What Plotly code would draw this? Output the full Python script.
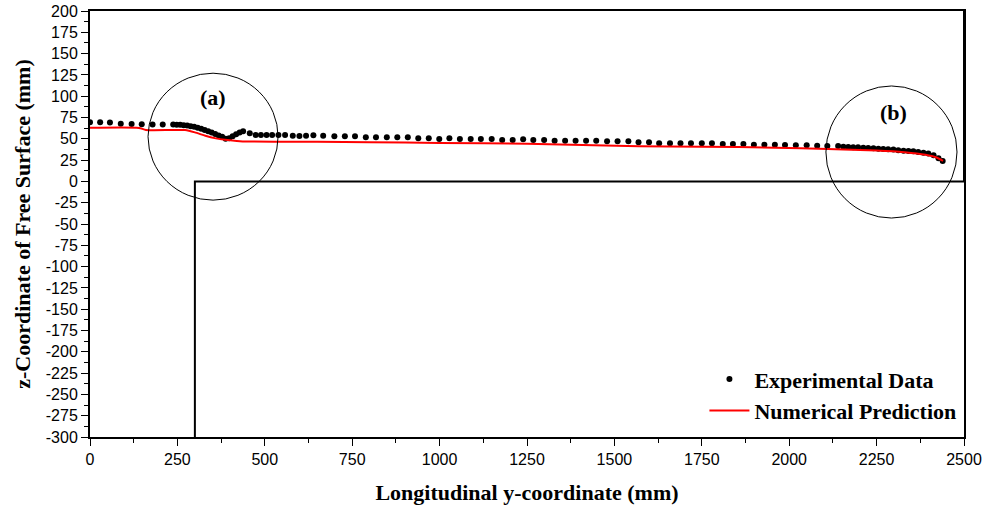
import plotly.graph_objects as go

# ---------------- data ----------------
exp_x = [0, 29, 57, 88, 119, 148, 179, 208, 238,
         248, 258, 268, 278, 288, 298, 308, 318, 328, 338, 348, 358, 368, 378, 388, 398, 408, 418, 428, 438,
         457, 474, 489, 505, 521, 539, 558, 580, 599, 618, 639, 667, 699, 729, 758, 789, 818, 849, 879, 909,
         939, 969, 999, 1028, 1058, 1089, 1118, 1149, 1179, 1209, 1239, 1268, 1299, 1329, 1359, 1389, 1419,
         1448, 1479, 1509, 1540, 1569, 1599, 1628, 1659, 1689, 1719, 1750, 1779, 1810, 1839, 1869, 1899, 1929,
         1959, 1988, 2019, 2050, 2080, 2109, 2140, 2155, 2169, 2183, 2197, 2212, 2226, 2241, 2255, 2269, 2283,
         2298, 2312, 2327, 2341, 2355, 2369, 2384, 2398, 2413, 2427, 2439]
exp_y = [69.5, 69.3, 69.0, 67.8, 67.5, 67.0, 66.9, 66.8, 66.7,
         66.6, 66.4, 66.0, 65.5, 64.8, 64.0, 63.0, 61.8, 60.4, 58.9, 57.3, 55.7, 54.0, 52.4, 50.0, 50.6, 53.0, 55.3, 57.3, 59.0,
         56.4, 54.6, 54.5, 54.5, 54.5, 54.5, 54.5, 53.7, 53.3, 53.7, 54.1, 53.7, 52.9, 52.9, 52.9, 51.7, 51.7, 51.7, 51.7, 51.7,
         50.5, 50.5, 49.8, 50.5, 49.8, 49.8, 49.8, 49.8, 48.6, 48.6, 49.4, 48.6, 48.6, 47.8, 47.8, 47.8, 47.8,
         47.8, 47.0, 47.0, 47.0, 45.9, 45.9, 44.7, 44.7, 44.7, 44.7, 44.7, 44.7, 43.9, 43.9, 43.9, 43.1, 43.1,
         43.1, 42.7, 42.3, 42.3, 41.9, 41.5, 41.5, 40.8, 40.4, 40.0, 40.0, 39.6, 39.2, 38.8, 38.4, 38.0, 37.6,
         37.3, 36.5, 36.1, 35.7, 35.3, 34.5, 33.7, 32.6, 30.6, 27.1, 23.8]

num_x = [0, 140, 160, 272, 300, 330, 360, 386, 420, 450, 550, 650, 800, 1000, 1250, 1570, 1750,
         1960, 2110, 2250, 2330, 2390, 2420, 2440]
num_y = [63.0, 62.8, 60.4, 60.2, 57.5, 53.5, 50.5, 48.8, 47.5, 46.8, 46.6, 46.5, 46.0, 45.1, 44.3, 41.2, 40.8,
         39.6, 38.0, 36.3, 34.3, 31.3, 28.3, 24.0]

# channel geometry (bottom step of the flume)
channel_x = [300, 300, 2500, 2500]
channel_y = [-300, 0, 0, 200]

# highlighted regions (circles): x0, x1, y0, y1 and labels
region_labels = ["(a)", "(b)"]
region_x0 = [166, 2105]
region_x1 = [538, 2480]
region_y0 = [-22, -43]
region_y1 = [127, 112]
label_x = [352, 2297]
label_y = [99, 81]

x_ticks = list(range(0, 2501, 250))
y_ticks = list(range(-300, 201, 25))

serif = "Liberation Serif, Times New Roman, serif"
sans = "Liberation Sans, Arial, sans-serif"

fig = go.Figure()

fig.add_trace(go.Scatter(x=channel_x, y=channel_y, mode="lines",
                         line=dict(color="black", width=2), showlegend=False, hoverinfo="skip"))

fig.add_trace(go.Scatter(x=exp_x, y=exp_y, mode="markers", name="Experimental Data",
                         marker=dict(color="black", size=6, symbol="circle")))

fig.add_trace(go.Scatter(x=num_x, y=num_y, mode="lines", name="Numerical Prediction",
                         line=dict(color="#ff0000", width=2, shape="spline", smoothing=0.6)))

for i in range(len(region_labels)):
    fig.add_shape(type="circle", xref="x", yref="y",
                  x0=region_x0[i], x1=region_x1[i], y0=region_y0[i], y1=region_y1[i],
                  line=dict(color="black", width=1))
    fig.add_annotation(x=label_x[i], y=label_y[i], text=region_labels[i],
                       showarrow=False, font=dict(family=serif, size=22, color="black", weight="bold"))

axis_common = dict(showgrid=False, zeroline=False, showline=True, linecolor="black", linewidth=2,
                   mirror=True, ticks="outside", ticklen=7, tickwidth=1, tickcolor="black",
                   automargin=False, ticklabeloverflow="allow",
                   tickfont=dict(family=sans, size=16, color="black"))

fig.update_xaxes(range=[0, 2500], tickvals=x_ticks, ticktext=[str(v) for v in x_ticks],
                 minor=dict(tickvals=list(range(125, 2500, 250)), ticklen=4, tickcolor="black", ticks="outside"),
                 title=dict(text="Longitudinal y-coordinate (mm)",
                            font=dict(family=serif, size=22, color="black", weight="bold"), standoff=17),
                 **axis_common)
fig.update_yaxes(range=[-300, 200], tickvals=y_ticks, ticktext=[str(v) for v in y_ticks],
                 minor=dict(tickvals=[v + 12.5 for v in y_ticks[:-1]], ticklen=4, tickcolor="black", ticks="outside"),
                 title=dict(text="z-Coordinate of Free Surface (mm)",
                            font=dict(family=serif, size=22, color="black", weight="bold"), standoff=9),
                 **axis_common)

fig.update_layout(
    width=985, height=510,
    margin=dict(l=90, r=21, t=11, b=73),
    plot_bgcolor="white", paper_bgcolor="white",
    legend=dict(x=0.703, y=0.185, xanchor="left", yanchor="top",
                bgcolor="rgba(0,0,0,0)", borderwidth=0,
                font=dict(family=serif, size=22, color="black", weight="bold"),
                tracegroupgap=0, itemwidth=40),
    showlegend=True,
)

# remove the default page margin so the figure sits at the window's top-left corner
fig.write_html("out.html", config={"displayModeBar": False},
               post_script="document.body.style.margin='0px';")
